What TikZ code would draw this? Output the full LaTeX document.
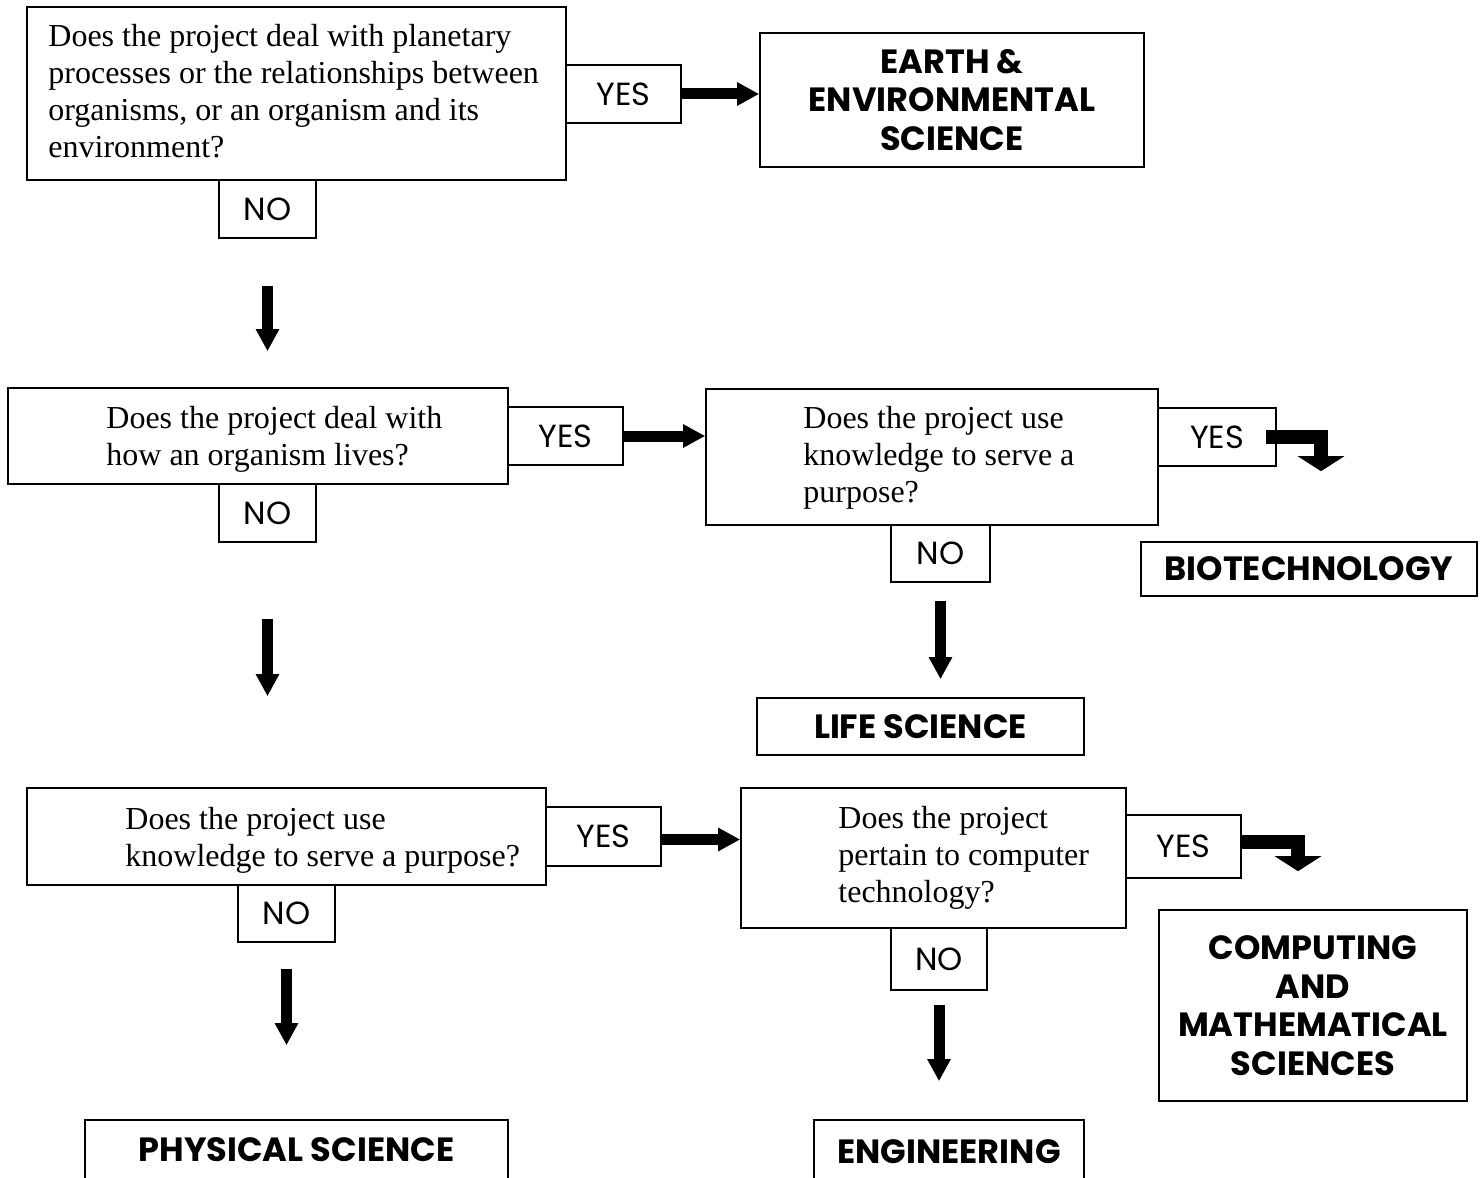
\documentclass[tikz,border=0pt]{standalone}
\usepackage{fontspec}
\setmainfont{Liberation Serif}
\newfontfamily\gothic{Poppins}
\usetikzlibrary{arrows.meta}
\begin{document}
\begin{tikzpicture}[x=0.5pt,y=-0.5pt,
  box/.style 2 args={draw, line width=0.8pt, inner sep=0pt, minimum width=#1*0.5pt, minimum height=#2*0.5pt},
  qtext/.style={inner sep=0pt, align=left, anchor=base west, font=\fontsize{16}{18.5}\selectfont},
  ans/.style={font=\gothic\fontsize{16}{19}\selectfont},
  cat/.style={font=\gothic\bfseries\fontsize{16.8}{19.25}\selectfont, align=center},
  blockarr/.style={line width=5.5pt, -{Triangle[width=11pt,length=11pt]}},
  bentarr/.style={line width=7pt, line join=miter, -{Triangle[width=23pt,length=7.5pt]}}]
\useasboundingbox (0,0) rectangle (1481,1177);
\clip (0,0) rectangle (1481,1177);
\fill[white] (0,0) rectangle (1481,1177);

% question boxes (text nodes anchored at the baseline of their last line)
\node[box={539}{173}] (q1) at (296.5,93.5) {};
\node[qtext] (q1t) at (48,157) {Does the project deal with planetary\\processes or the relationships between\\organisms, or an organism and its\\environment?};
\node[box={500}{96}] (q2) at (258,436) {};
\node[qtext] (q2t) at (106,465) {Does the project deal with\\how an organism lives?};
\node[box={452}{136}] (q3) at (932,457) {};
\node[qtext] (q3t) at (803,502) {Does the project use\\knowledge to serve a\\purpose?};
\node[box={519}{97}] (q4) at (286.5,836.5) {};
\node[qtext] (q4t) at (125,866) {Does the project use\\knowledge to serve a purpose?};
\node[box={385}{140}] (q5) at (933.5,858) {};
\node[qtext] (q5t) at (838,902) {Does the project\\pertain to computer\\technology?};

% answers
\node[box={115}{58}, ans] (yes1) at (623.5,94) {YES};
\node[box={97}{58}, ans] (no1) at (267.5,209) {NO};
\node[box={115}{58}, ans] (yes2) at (565.5,436) {YES};
\node[box={97}{58}, ans] (no2) at (267.5,513) {NO};
\node[box={118}{58}, ans] (yes3) at (1217,437) {YES};
\node[box={99}{57}, ans] (no3) at (940.5,553.5) {NO};
\node[box={115}{59}, ans] (yes4) at (603.5,836.5) {YES};
\node[box={97}{57}, ans] (no4) at (286.5,913.5) {NO};
\node[box={115}{63}, ans] (yes5) at (1183.5,846.5) {YES};
\node[box={96}{62}, ans] (no5) at (939,959) {NO};

% categories
\node[box={384}{134}, cat] (earth) at (952,100) {EARTH \&\\ENVIRONMENTAL\\SCIENCE};
\node[box={336}{54}, cat] (biotech) at (1309,569) {BIOTECHNOLOGY};
\node[box={327}{57}, cat] (life) at (920.5,726.5) {LIFE SCIENCE};
\node[box={308}{191}, cat] (comp) at (1313,1005.5) {COMPUTING\\AND\\MATHEMATICAL\\SCIENCES};
\node[box={423}{60}, cat] (phys) at (296.5,1150) {PHYSICAL SCIENCE};
\node[box={270}{64}, cat] (eng) at (949,1152) {ENGINEERING};

% connectors
\draw[blockarr] (yes1.east) -- (yes1.east -| earth.west);
\draw[blockarr] (yes2.east) -- (yes2.east -| q3.west);
\draw[blockarr] ([yshift=-1.5pt]yes4.east) -- ([yshift=-1.5pt]yes4.east -| q5.west);
\draw[blockarr, shorten <=23.5pt, shorten >=18pt] (no1.south) -- (no1.south |- q2.north);
\draw[blockarr, shorten <=38pt, shorten >=45.5pt] (no2.south) -- (no2.south |- q4.north);
\draw[blockarr, shorten <=9pt, shorten >=9pt] (no3.south) -- (no3.south |- life.north);
\draw[blockarr, shorten <=13pt, shorten >=37pt] (no4.south) -- (no4.south |- phys.north);
\draw[blockarr, shorten <=7pt, shorten >=19pt] (no5.south) -- (no5.south |- eng.north);
\draw[bentarr, shorten >=35pt] ([xshift=-5.5pt]yes3.east) -| ([xshift=6pt]biotech.north);
\draw[bentarr, shorten >=19pt] ([yshift=2.25pt]yes5.east) -| ([xshift=-7.5pt]comp.north);
\end{tikzpicture}
\end{document}
